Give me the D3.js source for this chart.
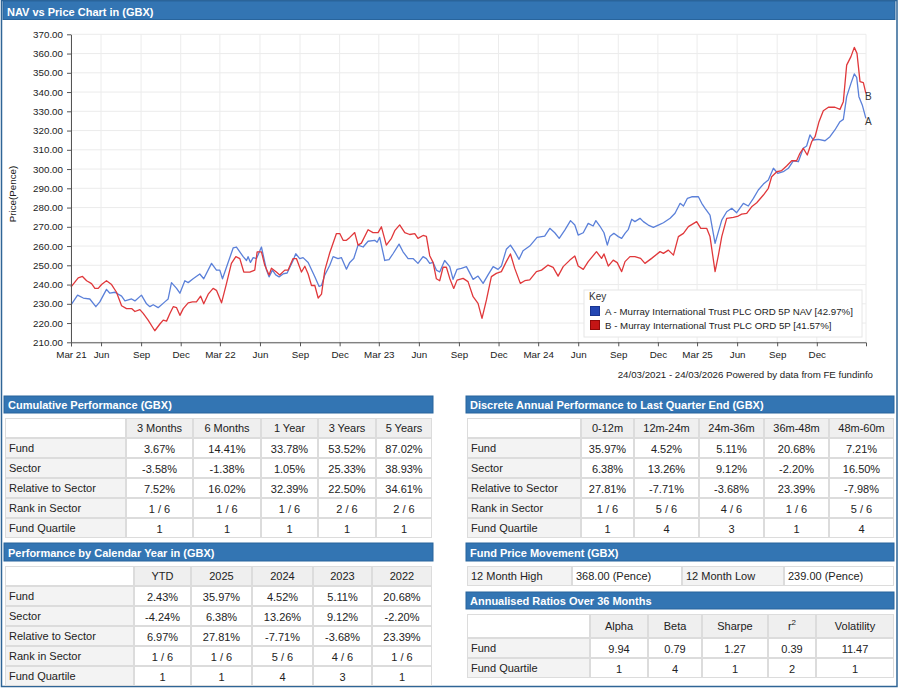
<!DOCTYPE html>
<html>
<head>
<meta charset="utf-8">
<script src="https://cdn.jsdelivr.net/npm/d3@7"></script>
<style>
  body { margin: 0; background: #fff; }
  svg text { font-family: "Liberation Sans", Arial, sans-serif; fill: #222; }
  .axis path, .axis line { stroke: #555; }
  .axis text { font-size: 9.8px; fill: #222; }
</style>
</head>
<body>
<div id="page"></div>
<script>
// Decimal year, value in pence
const navSeries = [
  [2021.224,229.3],[2021.266,234.5],[2021.302,233],[2021.343,232.5],[2021.381,228.5],[2021.406,231],[2021.448,237.5],
  [2021.469,235.5],[2021.501,236],[2021.543,234],[2021.564,231.5],[2021.606,232.5],[2021.627,231.5],[2021.668,234.5],
  [2021.700,230],[2021.721,228.5],[2021.742,229.5],[2021.773,228],[2021.815,231],[2021.836,232.5],[2021.857,241],
  [2021.889,238],[2021.910,235.5],[2021.941,242],[2021.962,241],[2021.993,243],[2022.035,245.5],[2022.060,243],
  [2022.109,251],[2022.140,247.5],[2022.161,247.5],[2022.178,243],[2022.203,249],[2022.245,259],[2022.266,259.5],
  [2022.308,254.5],[2022.329,252.5],[2022.339,254.5],[2022.354,251.5],[2022.371,254],[2022.392,253.5],[2022.423,259.5],
  [2022.455,247.5],[2022.471,244],[2022.492,247.5],[2022.513,245],[2022.534,244],[2022.559,245.5],[2022.585,246],
  [2022.622,252.5],[2022.639,256],[2022.664,253.5],[2022.685,254],[2022.717,251.5],[2022.759,244],[2022.786,239],
  [2022.801,239.5],[2022.822,245],[2022.853,250],[2022.874,254.5],[2022.905,253.5],[2022.926,254],[2022.958,248],
  [2022.979,251.5],[2023.004,253.5],[2023.031,260.5],[2023.063,259.5],[2023.094,262.5],[2023.136,263],[2023.151,262],
  [2023.167,264.5],[2023.199,252.5],[2023.226,253],[2023.251,256],[2023.289,261],[2023.314,257],[2023.346,253.5],
  [2023.377,253.5],[2023.408,251],[2023.440,254.5],[2023.461,253.5],[2023.482,251],[2023.503,251.5],[2023.524,247.5],
  [2023.545,246.5],[2023.576,252.5],[2023.608,249.3],[2023.629,242.7],[2023.654,247.9],[2023.681,248.4],[2023.713,249.3],
  [2023.755,242.7],[2023.786,244.4],[2023.818,240.6],[2023.849,245],[2023.881,249.3],[2023.912,247.9],[2023.933,249.6],
  [2023.964,258.3],[2023.990,260.5],[2024.017,257.1],[2024.044,253.1],[2024.069,257.6],[2024.111,260],[2024.157,264.5],
  [2024.205,265.2],[2024.237,269.2],[2024.268,266.9],[2024.296,264],[2024.331,268.3],[2024.367,273.2],[2024.394,270.9],
  [2024.415,265.7],[2024.447,266.9],[2024.478,271.8],[2024.509,270.4],[2024.526,273.2],[2024.551,270.4],[2024.577,266.9],
  [2024.598,260.5],[2024.614,264.9],[2024.639,266.6],[2024.667,264.9],[2024.688,264],[2024.709,266.6],[2024.730,268.7],
  [2024.751,273.9],[2024.771,272.7],[2024.803,274.4],[2024.824,272.7],[2024.855,270.9],[2024.887,269.7],[2024.918,270.9],
  [2024.950,272.1],[2024.992,274.4],[2025.023,277],[2025.055,282.2],[2025.076,280.8],[2025.101,284.8],[2025.128,285.6],
  [2025.170,285.6],[2025.191,282.2],[2025.212,279.6],[2025.243,276.1],[2025.275,261.4],[2025.296,267.5],[2025.317,273.5],
  [2025.348,277.8],[2025.380,279.6],[2025.411,277.3],[2025.453,282.2],[2025.484,280.8],[2025.516,284.8],[2025.547,289.1],
  [2025.579,292.2],[2025.610,294.3],[2025.642,300.4],[2025.669,297.8],[2025.704,298.6],[2025.736,300.4],[2025.767,304.3],
  [2025.799,303.8],[2025.830,310.8],[2025.851,312],[2025.872,317.7],[2025.893,315.1],[2025.925,315.4],[2025.967,314.7],
  [2025.998,316.8],[2026.029,320.3],[2026.061,324.6],[2026.082,325.8],[2026.103,337.6],[2026.130,344.5],[2026.151,349.4],
  [2026.166,347.6],[2026.180,337.6],[2026.201,333.3],[2026.224,326.3]
];

const priceSeries = [
  [2021.224,238.7],[2021.270,243.5],[2021.297,244.2],[2021.323,242],[2021.354,240.5],[2021.375,238],[2021.396,238],
  [2021.417,240],[2021.448,242],[2021.480,240],[2021.511,236],[2021.543,229],[2021.574,227.5],[2021.606,227.5],
  [2021.627,226],[2021.658,227],[2021.679,225],[2021.710,221.5],[2021.752,216],[2021.784,219.5],[2021.805,221.5],
  [2021.826,221],[2021.847,225],[2021.868,228.5],[2021.889,228],[2021.910,224],[2021.931,227.5],[2021.962,230.5],
  [2021.989,231],[2022.014,231],[2022.040,234],[2022.060,230],[2022.088,235],[2022.119,238],[2022.140,237],
  [2022.172,230.5],[2022.203,240.5],[2022.234,251],[2022.262,254.5],[2022.287,253.5],[2022.312,246.5],[2022.350,246.5],
  [2022.381,247.5],[2022.396,257],[2022.423,257],[2022.444,250],[2022.471,245],[2022.486,248.5],[2022.517,246.5],
  [2022.538,245],[2022.570,247.5],[2022.591,247.5],[2022.622,253.5],[2022.643,253.5],[2022.675,246.5],[2022.696,249.5],
  [2022.717,245.5],[2022.738,239.5],[2022.759,239.5],[2022.780,233],[2022.801,235],[2022.822,247.5],[2022.853,256.5],
  [2022.895,266.5],[2022.916,266.5],[2022.937,263],[2022.958,263],[2022.979,264.5],[2023.010,267],[2023.031,260.5],
  [2023.052,261.5],[2023.094,268.5],[2023.125,267],[2023.157,267],[2023.178,270],[2023.209,260.5],[2023.241,264],
  [2023.262,268],[2023.293,271],[2023.325,267],[2023.356,266],[2023.388,266.5],[2023.408,264],[2023.440,265.5],
  [2023.461,265],[2023.482,255],[2023.503,251.5],[2023.524,243],[2023.545,242],[2023.566,249],[2023.587,249],
  [2023.608,243.2],[2023.633,238],[2023.654,242.3],[2023.692,243.2],[2023.723,241.5],[2023.755,233.7],[2023.786,230.2],
  [2023.811,222.4],[2023.839,232],[2023.870,244.1],[2023.901,245.8],[2023.933,246.7],[2023.964,251.9],[2023.990,255.9],
  [2024.017,248.4],[2024.052,240.6],[2024.080,242],[2024.111,242.4],[2024.153,246.7],[2024.185,247.5],[2024.226,250.1],
  [2024.258,248.9],[2024.289,244.4],[2024.321,249.3],[2024.363,252.7],[2024.394,254.8],[2024.415,249.6],[2024.447,247.9],
  [2024.478,251.9],[2024.530,257.1],[2024.562,253.6],[2024.577,255.9],[2024.604,249.6],[2024.635,252.7],[2024.660,251.4],
  [2024.688,246.7],[2024.709,251.9],[2024.740,254.5],[2024.771,254.5],[2024.807,253.6],[2024.834,251],[2024.876,253.6],
  [2024.929,257.1],[2024.950,256.2],[2024.981,257.9],[2025.013,255.3],[2025.044,264.9],[2025.076,266.6],[2025.107,270.1],
  [2025.159,272.7],[2025.185,269.2],[2025.222,269.2],[2025.243,264.9],[2025.275,246.7],[2025.296,255.3],[2025.317,264.9],
  [2025.348,274.4],[2025.390,274.9],[2025.421,275.6],[2025.442,276.6],[2025.474,277],[2025.505,280.4],[2025.537,282.5],
  [2025.579,286.5],[2025.610,290],[2025.631,296],[2025.663,298.6],[2025.694,299.2],[2025.725,301.6],[2025.757,304.3],
  [2025.788,304.3],[2025.809,308.2],[2025.830,310.8],[2025.855,307.3],[2025.883,314.2],[2025.904,316.8],[2025.929,324.6],
  [2025.956,330.3],[2025.988,332.1],[2026.029,332.1],[2026.061,331],[2026.082,335],[2026.103,354],[2026.130,358.4],
  [2026.151,363.2],[2026.168,360.1],[2026.187,345.4],[2026.208,344.9],[2026.224,339.3]
];

const seriesKeys = ["A", "B"];
const seriesNames = [
  "A - Murray International Trust PLC ORD 5P NAV [42.97%]",
  "B - Murray International Trust PLC ORD 5P [41.57%]"
];
const yTicks = [210, 220, 230, 240, 250, 260, 270, 280, 290, 300, 310, 320, 330, 340, 350, 360, 370];
const dateRange = ["2021-03-24", "2026-03-24"];

const cumulativeColumns = ["3 Months", "6 Months", "1 Year", "3 Years", "5 Years"];
const cumulativeRows = [
  ["Fund", "3.67%", "14.41%", "33.78%", "53.52%", "87.02%"],
  ["Sector", "-3.58%", "-1.38%", "1.05%", "25.33%", "38.93%"],
  ["Relative to Sector", "7.52%", "16.02%", "32.39%", "22.50%", "34.61%"],
  ["Rank in Sector", "1 / 6", "1 / 6", "1 / 6", "2 / 6", "2 / 6"],
  ["Fund Quartile", "1", "1", "1", "1", "1"]
];

const discreteColumns = ["0-12m", "12m-24m", "24m-36m", "36m-48m", "48m-60m"];
const discreteRows = [
  ["Fund", "35.97%", "4.52%", "5.11%", "20.68%", "7.21%"],
  ["Sector", "6.38%", "13.26%", "9.12%", "-2.20%", "16.50%"],
  ["Relative to Sector", "27.81%", "-7.71%", "-3.68%", "23.39%", "-7.98%"],
  ["Rank in Sector", "1 / 6", "5 / 6", "4 / 6", "1 / 6", "5 / 6"],
  ["Fund Quartile", "1", "4", "3", "1", "4"]
];

const calendarColumns = ["YTD", "2025", "2024", "2023", "2022"];
const calendarRows = [
  ["Fund", "2.43%", "35.97%", "4.52%", "5.11%", "20.68%"],
  ["Sector", "-4.24%", "6.38%", "13.26%", "9.12%", "-2.20%"],
  ["Relative to Sector", "6.97%", "27.81%", "-7.71%", "-3.68%", "23.39%"],
  ["Rank in Sector", "1 / 6", "1 / 6", "5 / 6", "4 / 6", "1 / 6"],
  ["Fund Quartile", "1", "1", "4", "3", "1"]
];

const priceMovement = ["12 Month High", "368.00 (Pence)", "12 Month Low", "239.00 (Pence)"];

const ratioColumns = ["Alpha", "Beta", "Sharpe", "r2", "Volatility"];
const ratioRows = [
  ["Fund", "9.94", "0.79", "1.27", "0.39", "11.47"],
  ["Fund Quartile", "1", "4", "1", "2", "1"]
];

const factsheet = {
    init: function () {
        this.svg = d3.select("#page").append("svg")
            .attr("width", 900)
            .attr("height", 689);

        // outer frame round the whole page
        this.svg.append("rect")
            .attr("x", 1.5).attr("y", 0.5)
            .attr("width", 895.5).attr("height", 686)
            .attr("fill", "#fff")
            .attr("stroke", "#2f6596")
            .attr("stroke-width", 1.5);

        this.titleBar(3, 895, 1, 19.5, "NAV vs Price Chart in (GBX)", 14.5);
        this.drawChart();
        this.drawTables();
    },

    titleBar: function (x0, x1, y0, y1, label, base) {
        const g = this.svg.append("g");
        g.append("rect")
            .attr("x", x0).attr("y", y0)
            .attr("width", x1 - x0).attr("height", y1 - y0)
            .attr("fill", "#3375b3")
            .attr("stroke", "#28649c")
            .attr("stroke-width", 1);
        g.append("text")
            .attr("x", x0 + 4).attr("y", y0 + base)
            .style("fill", "#fff")
            .style("font-weight", "bold")
            .style("font-size", "11px")
            .text(label);
    },

    drawChart: function () {
        const left = 71, right = 866, top = 34.3, bottom = 342.3;

        // decimal year -> Date
        const toDate = t => {
            const y = Math.floor(t);
            const a = new Date(y, 0, 1), b = new Date(y + 1, 0, 1);
            return new Date(+a + (t - y) * (b - a));
        };
        const parse = d3.timeParse("%Y-%m-%d");
        const start = parse(dateRange[0]), end = parse(dateRange[1]);

        const x = d3.scaleTime().domain([start, end]).range([left, right]);
        const y = d3.scaleLinear().domain([210, 370]).range([bottom, top]);

        const xTicks = [start].concat(d3.timeMonths(new Date(2021, 5, 1), new Date(2026, 0, 2), 3));
        const fmt = d => d.getMonth() === 2 ? d3.timeFormat("%b %y")(d) : d3.timeFormat("%b")(d);

        // grid
        const grid = this.svg.append("g");
        grid.selectAll(".hg").data(yTicks).join("line")
            .attr("x1", left).attr("x2", right)
            .attr("y1", d => y(d)).attr("y2", d => y(d))
            .attr("stroke", "#ececec");
        grid.selectAll(".vg").data(xTicks.concat([end])).join("line")
            .attr("x1", d => x(d)).attr("x2", d => x(d))
            .attr("y1", top).attr("y2", bottom)
            .attr("stroke", "#ececec");

        // series
        const line = d3.line().x(d => x(toDate(d[0]))).y(d => y(d[1]));
        const series = [
            { data: navSeries, color: "#5b80d9", key: seriesKeys[0] },
            { data: priceSeries, color: "#e0383b", key: seriesKeys[1] }
        ];
        this.svg.append("g").selectAll("path").data(series).join("path")
            .attr("d", d => line(d.data))
            .attr("fill", "none")
            .attr("stroke", d => d.color)
            .attr("stroke-width", 1.3)
            .attr("stroke-linejoin", "round");

        // A / B end labels
        this.svg.append("g").selectAll("text").data(series).join("text")
            .attr("x", right - 1)
            .attr("y", d => y(d.data[d.data.length - 1][1]) + 6.5)
            .style("font-size", "10px")
            .style("fill", "#333")
            .text(d => d.key);

        // axes
        this.svg.append("g").attr("class", "axis")
            .attr("transform", `translate(${left},0)`)
            .call(d3.axisLeft(y).tickValues(yTicks).tickFormat(d3.format(".2f")).tickSize(4).tickSizeOuter(0).tickPadding(4));
        this.svg.append("g").attr("class", "axis")
            .attr("transform", `translate(0,${bottom})`)
            .call(d3.axisBottom(x).tickValues(xTicks).tickFormat(fmt).tickSize(4).tickSizeOuter(4).tickPadding(5));

        // y axis title
        this.svg.append("text")
            .attr("transform", "translate(16,194) rotate(-90)")
            .attr("text-anchor", "middle")
            .style("font-size", "9.8px")
            .text("Price(Pence)");

        // legend
        const lg = this.svg.append("g");
        lg.append("rect")
            .attr("x", 584).attr("y", 290).attr("width", 278).attr("height", 47)
            .attr("fill", "#fff").attr("stroke", "#e6e6e6");
        lg.append("text").attr("x", 589).attr("y", 299.5)
            .style("font-size", "10px").style("fill", "#333").text("Key");
        const swatch = [["#2447b3", "#1a3590"], ["#c41515", "#8f0a0a"]];
        seriesNames.forEach((name, i) => {
            lg.append("rect")
                .attr("x", 590.5).attr("y", 306.5 + i * 14)
                .attr("width", 9).attr("height", 9)
                .attr("fill", swatch[i][0]).attr("stroke", swatch[i][1]);
            lg.append("text")
                .attr("x", 605).attr("y", 315 + i * 14)
                .style("font-size", "9.7px").style("fill", "#222")
                .text(name);
        });

        // footer
        this.svg.append("text")
            .attr("x", 873).attr("y", 378)
            .attr("text-anchor", "end")
            .style("font-size", "9.7px")
            .text(`${d3.timeFormat("%d/%m/%Y")(start)} - ${d3.timeFormat("%d/%m/%Y")(end)} Powered by data from FE fundinfo`);
    },

    drawTable: function (edges, topY, headH, rowH, columns, rows) {
        const g = this.svg.append("g");
        const height = headH + rows.length * rowH;
        g.append("rect")
            .attr("x", edges[0]).attr("y", topY)
            .attr("width", edges[edges.length - 1] - edges[0]).attr("height", height)
            .attr("fill", "#dcdcdc");

        const cell = (i, y0, h, fill) => g.append("rect")
            .attr("x", edges[i] + 1).attr("y", y0 + 1)
            .attr("width", edges[i + 1] - edges[i] - 2).attr("height", h - 2)
            .attr("fill", fill);

        // header row
        cell(0, topY, headH, "#fff");
        columns.forEach((c, i) => {
            cell(i + 1, topY, headH, "#efefef");
            const t = g.append("text")
                .attr("x", (edges[i + 1] + edges[i + 2]) / 2)
                .attr("y", topY + headH / 2 + 3.8)
                .attr("text-anchor", "middle")
                .style("font-size", "11px");
            if (c === "r2") {
                t.append("tspan").text("r");
                t.append("tspan").attr("dy", -5).style("font-size", "8px").text("2");
            } else {
                t.text(c);
            }
        });

        // body rows
        rows.forEach((row, r) => {
            const y0 = topY + headH + r * rowH;
            row.forEach((v, i) => {
                cell(i, y0, rowH, i === 0 ? "#f3f3f3" : "#fff");
                g.append("text")
                    .attr("x", i === 0 ? edges[0] + 4 : (edges[i] + edges[i + 1]) / 2)
                    .attr("y", y0 + (i === 0 ? 13.5 : 15))
                    .attr("text-anchor", i === 0 ? "start" : "middle")
                    .style("font-size", "11px")
                    .text(v);
            });
        });
    },

    drawTables: function () {
        this.titleBar(4, 433, 396, 413, "Cumulative Performance (GBX)", 13);
        this.drawTable([5, 126, 193, 261, 318, 376, 432], 418, 20, 20, cumulativeColumns, cumulativeRows);

        this.titleBar(466, 894, 396, 413, "Discrete Annual Performance to Last Quarter End (GBX)", 13);
        this.drawTable([467, 581, 634, 699, 764, 829, 894], 418, 20, 20, discreteColumns, discreteRows);

        this.titleBar(4, 433, 543, 561, "Performance by Calendar Year in (GBX)", 13.5);
        this.drawTable([5, 134, 191, 252, 313, 372, 432], 566, 20, 20, calendarColumns, calendarRows);

        this.titleBar(466, 894, 543, 561, "Fund Price Movement (GBX)", 13.5);
        const pm = [467, 572, 682, 784, 894];
        const g = this.svg.append("g");
        g.append("rect").attr("x", 467).attr("y", 566).attr("width", 427).attr("height", 20).attr("fill", "#dcdcdc");
        priceMovement.forEach((v, i) => {
            g.append("rect")
                .attr("x", pm[i] + 1).attr("y", 567)
                .attr("width", pm[i + 1] - pm[i] - 2).attr("height", 18)
                .attr("fill", i % 2 === 0 ? "#f3f3f3" : "#fff");
            g.append("text")
                .attr("x", pm[i] + 4).attr("y", 580)
                .style("font-size", "11px")
                .text(v);
        });

        this.titleBar(466, 894, 592, 609, "Annualised Ratios Over 36 Months", 13);
        this.drawTable([467, 590, 648, 702, 768, 816, 894], 614, 24, 20, ratioColumns, ratioRows);
    }
};

document.addEventListener("DOMContentLoaded", function () {
    factsheet.init();
});
</script>
</body>
</html>
